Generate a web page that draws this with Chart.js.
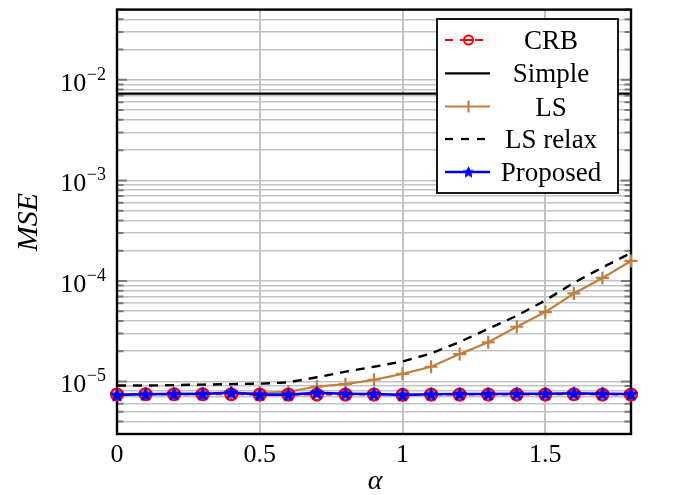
<!DOCTYPE html>
<html>
<head>
<meta charset="utf-8">
<script src="https://cdn.jsdelivr.net/npm/chart.js@4/dist/chart.umd.min.js"></script>
<style>
html,body{margin:0;padding:0;background:#fff;}
#wrap{width:673px;height:495px;position:relative;}
</style>
</head>
<body>
<div id="wrap"><canvas id="c" width="673" height="495"></canvas></div>
<script>
// ---------- data ----------
const alphas = [0,0.1,0.2,0.3,0.4,0.5,0.6,0.7,0.8,0.9,1.0,1.1,1.2,1.3,1.4,1.5,1.6,1.7,1.8];
const crb = [7.4e-6,7.45e-6,7.45e-6,7.45e-6,7.45e-6,7.4e-6,7.4e-6,7.4e-6,7.4e-6,7.4e-6,7.35e-6,7.4e-6,7.4e-6,7.4e-6,7.4e-6,7.4e-6,7.45e-6,7.4e-6,7.4e-6];
const simple = [7.3e-3,7.3e-3,7.3e-3,7.3e-3,7.3e-3,7.3e-3,7.3e-3,7.3e-3,7.3e-3,7.3e-3,7.3e-3,7.3e-3,7.3e-3,7.3e-3,7.3e-3,7.3e-3,7.3e-3,7.3e-3,7.3e-3];
const ls = [7.45e-6,7.5e-6,7.55e-6,7.55e-6,7.65e-6,7.7e-6,7.9e-6,8.9e-6,9.4e-6,1.04e-5,1.19e-5,1.4e-5,1.87e-5,2.45e-5,3.5e-5,4.9e-5,7.5e-5,1.07e-4,1.58e-4];
const lsRelax = [9.1e-6,9.1e-6,9.2e-6,9.3e-6,9.4e-6,9.5e-6,9.8e-6,1.1e-5,1.25e-5,1.4e-5,1.58e-5,1.9e-5,2.47e-5,3.34e-5,4.5e-5,6.4e-5,9.6e-5,1.36e-4,1.9e-4];
const proposed = [7.35e-6,7.45e-6,7.5e-6,7.5e-6,7.75e-6,7.4e-6,7.4e-6,7.7e-6,7.55e-6,7.5e-6,7.35e-6,7.45e-6,7.5e-6,7.5e-6,7.55e-6,7.55e-6,7.6e-6,7.55e-6,7.5e-6];

const xTicks = [0,0.5,1,1.5];
const xTickLabels = ['0','0.5','1','1.5'];
const yDecades = [1e-5,1e-4,1e-3,1e-2];
const yExponents = ['\u22125','\u22124','\u22123','\u22122'];
const legendLabels = ['CRB','Simple','LS','LS relax','Proposed'];
const xTitle = '\u03b1';
const yTitle = 'MSE';
const yMin = 3e-6, yMax = 5e-2;

// ---------- helpers ----------
const SERIF = '"Liberation Serif","DejaVu Serif",serif';
const BROWN = 'rgb(191,128,64)';
const BLUE = '#0000ff';
const RED = '#ff0000';
const GRID = '#c3c3c3';

function starCanvas(R){
  const size = Math.ceil(R*2+4);
  const cv = document.createElement('canvas');
  cv.width = size; cv.height = size;
  const g = cv.getContext('2d');
  const c = size/2, r = R*0.45;
  g.beginPath();
  for(let i=0;i<10;i++){
    const a = -Math.PI/2 + i*Math.PI/5;
    const rr = (i%2===0)?R:r;
    const px = c + rr*Math.cos(a), py = c + 0.5 + rr*Math.sin(a);
    if(i===0) g.moveTo(px,py); else g.lineTo(px,py);
  }
  g.closePath();
  g.fillStyle = BLUE; g.fill();
  g.strokeStyle = BLUE; g.lineWidth = 1; g.lineJoin='round'; g.stroke();
  return cv;
}
const star = starCanvas(7);
const starSmall = starCanvas(5.5);

const pts = arr => alphas.map((a,i)=>({x:a,y:arr[i]}));

// grid values for log axis (1..9 x decades within range)
const yGridVals = [];
[1e-6,1e-5,1e-4,1e-3,1e-2].forEach(d=>{
  for(let m=1;m<=9;m++){ const v=m*d; if(v>=yMin*0.999 && v<=yMax*1.001) yGridVals.push(v); }
});

// ---------- plugin: frame, ticks, labels, legend ----------
const deco = {
  id:'deco',
  beforeDatasetsDraw(chart){
    const ctx = chart.ctx, a = chart.chartArea, y = chart.scales.y;
    ctx.save();
    ctx.strokeStyle = '#7a7a7a'; ctx.lineWidth = 2;
    yGridVals.forEach(v=>{
      const py = y.getPixelForValue(v);
      const major = yDecades.some(d=>Math.abs(d-v)/d<1e-6);
      const L = major?10:6.5;
      ctx.beginPath();
      ctx.moveTo(a.left,py); ctx.lineTo(a.left+L,py);
      ctx.moveTo(a.right-L,py); ctx.lineTo(a.right,py);
      ctx.stroke();
    });
    ctx.strokeStyle = '#000'; ctx.lineWidth = 2.4;
    ctx.strokeRect(a.left,a.top,a.right-a.left,a.bottom-a.top);
    ctx.restore();
  },
  afterDatasetsDraw(chart){
    const ctx = chart.ctx;
    ctx.save();
    // legend box
    const bx=437, by=19, bw=181, bh=174;
    ctx.fillStyle='#fff'; ctx.fillRect(bx,by,bw,bh);
    ctx.strokeStyle='#000'; ctx.lineWidth=1.8; ctx.strokeRect(bx,by,bw,bh);
    const rows=[40,73.3,106.5,139,172];
    const x0=445, x1=490, xm=467.5;
    // CRB
    ctx.strokeStyle=RED; ctx.lineWidth=2; ctx.setLineDash([8,7]);
    ctx.beginPath(); ctx.moveTo(x0,rows[0]); ctx.lineTo(x1,rows[0]); ctx.stroke();
    ctx.setLineDash([]);
    ctx.lineWidth=2; ctx.beginPath(); ctx.arc(xm+1,rows[0],4.5,0,Math.PI*2); ctx.stroke();
    ctx.beginPath(); ctx.moveTo(xm-3,rows[0]); ctx.lineTo(xm+5,rows[0]); ctx.stroke();
    // Simple
    ctx.strokeStyle='#000'; ctx.lineWidth=2.2;
    ctx.beginPath(); ctx.moveTo(x0,rows[1]); ctx.lineTo(x1,rows[1]); ctx.stroke();
    // LS
    ctx.strokeStyle=BROWN; ctx.lineWidth=2.2;
    ctx.beginPath(); ctx.moveTo(x0,rows[2]); ctx.lineTo(x1,rows[2]); ctx.stroke();
    ctx.beginPath(); ctx.moveTo(xm+1,rows[2]-6); ctx.lineTo(xm+1,rows[2]+6); ctx.stroke();
    // LS relax
    ctx.strokeStyle='#000'; ctx.lineWidth=2.2; ctx.setLineDash([8,8]);
    ctx.beginPath(); ctx.moveTo(x0,rows[3]); ctx.lineTo(x1+2,rows[3]); ctx.stroke();
    ctx.setLineDash([]);
    // Proposed
    ctx.strokeStyle=BLUE; ctx.lineWidth=2.4;
    ctx.beginPath(); ctx.moveTo(x0,rows[4]); ctx.lineTo(x1,rows[4]); ctx.stroke();
    ctx.drawImage(starSmall, xm+1-starSmall.width/2, rows[4]-starSmall.height/2);
    // legend text
    ctx.fillStyle='#000'; ctx.font='27px '+SERIF; ctx.textAlign='center'; ctx.textBaseline='alphabetic';
    legendLabels.forEach((t,i)=>ctx.fillText(t,551,rows[i]+9));
    ctx.restore();
  },
  afterDraw(chart){
    const ctx = chart.ctx, a = chart.chartArea, x = chart.scales.x, y = chart.scales.y;
    ctx.save();
    ctx.fillStyle='#000';
    // x tick labels
    ctx.font='26px '+SERIF; ctx.textAlign='center'; ctx.textBaseline='alphabetic';
    xTicks.forEach((v,i)=>ctx.fillText(xTickLabels[i], x.getPixelForValue(v), 462));
    // y tick labels 10^k
    yDecades.forEach((v,i)=>{
      const py = y.getPixelForValue(v);
      ctx.font='18px '+SERIF;
      const ew = ctx.measureText(yExponents[i]).width;
      const right = 106;
      ctx.textAlign='left';
      ctx.fillText(yExponents[i], right-ew, py);
      ctx.font='26px '+SERIF; ctx.textAlign='right';
      ctx.fillText('10', right-ew-0.5, py+11);
    });
    // axis titles
    ctx.font='italic 28px '+SERIF; ctx.textAlign='center';
    ctx.fillText(xTitle, 375, 489);
    ctx.font='italic 30px '+SERIF;
    ctx.translate(37,222); ctx.rotate(-Math.PI/2);
    ctx.textBaseline='alphabetic';
    ctx.fillText(yTitle,0,0);
    ctx.restore();
  }
};

new Chart(document.getElementById('c'),{
  type:'line',
  data:{
    datasets:[
      {label:legendLabels[4], data:pts(proposed), borderColor:BLUE, borderWidth:2.6, pointStyle:star, pointRadius:7, clip:false, tension:0},
      {label:legendLabels[0], data:pts(crb), borderColor:RED, borderWidth:1.8, borderDash:[6,5], pointStyle:'circle', pointRadius:5.8, pointBorderWidth:2.5, pointBorderColor:RED, pointBackgroundColor:'rgba(0,0,0,0)', clip:false, tension:0},
      {label:legendLabels[2], data:pts(ls), borderColor:BROWN, borderWidth:2.2, pointStyle:'cross', pointRadius:6.5, pointBorderWidth:2.2, pointBorderColor:BROWN, clip:false, tension:0},
      {label:legendLabels[3], data:pts(lsRelax), borderColor:'#000', borderWidth:2.4, borderDash:[9,7], pointRadius:0, clip:false, tension:0},
      {label:legendLabels[1], data:pts(simple), borderColor:'#000', borderWidth:2.2, pointRadius:0, clip:false, tension:0}
    ]
  },
  options:{
    responsive:false, animation:false, devicePixelRatio:1,
    layout:{padding:{left:117, top:6, right:42, bottom:61}},
    plugins:{legend:{display:false}, tooltip:{enabled:false}},
    scales:{
      x:{type:'linear', min:0, max:1.8,
         afterBuildTicks:s=>{s.ticks = xTicks.map(v=>({value:v}));},
         ticks:{display:false}, grid:{color:GRID, lineWidth:2, drawTicks:false}, border:{display:false}},
      y:{type:'logarithmic', min:yMin, max:yMax,
         afterBuildTicks:s=>{s.ticks = yGridVals.map(v=>({value:v}));},
         ticks:{display:false}, grid:{color:GRID, lineWidth:1.6, drawTicks:false}, border:{display:false}}
    }
  },
  plugins:[deco]
});
</script>
</body>
</html>
